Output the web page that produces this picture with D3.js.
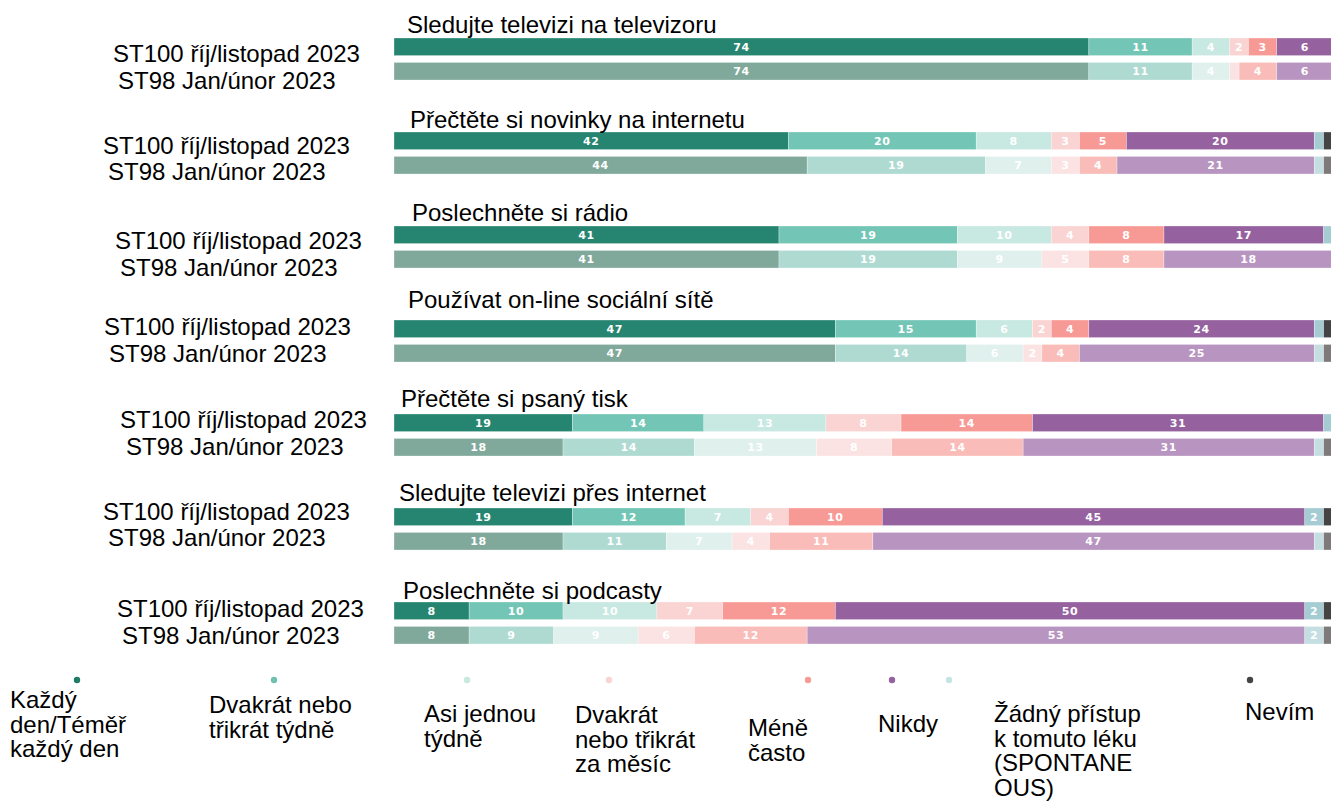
<!DOCTYPE html>
<html>
<head>
<meta charset="utf-8">
<script src="https://cdn.jsdelivr.net/npm/d3@7"></script>
<style>
  html, body { margin: 0; padding: 0; background: #fff; }
  svg { display: block; }
</style>
</head>
<body>
<svg id="chart" width="1331" height="807"></svg>
<script>
// ---------- DATA ----------
const topics = [
  "Sledujte televizi na televizoru",
  "Přečtěte si novinky na internetu",
  "Poslechněte si rádio",
  "Používat on-line sociální sítě",
  "Přečtěte si psaný tisk",
  "Sledujte televizi přes internet",
  "Poslechněte si podcasty"
];
const waves = ["ST100 říj/listopad 2023", "ST98 Jan/únor 2023"];
const categories = [
  "Každý den/Téměř každý den",
  "Dvakrát nebo třikrát týdně",
  "Asi jednou týdně",
  "Dvakrát nebo třikrát za měsíc",
  "Méně často",
  "Nikdy",
  "Žádný přístup k tomuto léku (SPONTANEOUS)",
  "Nevím"
];
// values per topic, in category order
const st100Values = [
  [74, 11, 4, 2, 3, 6, 0, 0],
  [42, 20, 8, 3, 5, 20, 1, 1],
  [41, 19, 10, 4, 8, 17, 1, 0],
  [47, 15, 6, 2, 4, 24, 1, 1],
  [19, 14, 13, 8, 14, 31, 1, 0],
  [19, 12, 7, 4, 10, 45, 2, 1],
  [8, 10, 10, 7, 12, 50, 2, 1]
];
const st98Values = [
  [74, 11, 4, 1, 4, 6, 0, 0],
  [44, 19, 7, 3, 4, 21, 1, 1],
  [41, 19, 9, 5, 8, 18, 0, 0],
  [47, 14, 6, 2, 4, 25, 1, 1],
  [18, 14, 13, 8, 14, 31, 1, 1],
  [18, 11, 7, 4, 11, 47, 1, 1],
  [8, 9, 9, 6, 12, 53, 2, 1]
];
const legendLines = [
  ["Každý", "den/Téměř", "každý den"],
  ["Dvakrát nebo", "třikrát týdně"],
  ["Asi jednou", "týdně"],
  ["Dvakrát", "nebo třikrát", "za měsíc"],
  ["Méně", "často"],
  ["Nikdy"],
  ["Žádný přístup", "k tomuto léku", "(SPONTANE", "OUS)"],
  ["Nevím"]
];

// ---------- STYLE / LAYOUT ----------
const colorsST100 = ["#268570", "#73c6b6", "#c8e8e2", "#fad3d3", "#f79a96", "#95619f", "#a5cbd3", "#444444"];
const colorsST98  = ["#80a99b", "#aedad2", "#dff0ed", "#fbe3e4", "#f9bcb8", "#b895c0", "#c4dee2", "#7f7a7a"];
const legendDotColors = ["#1f7a66", "#6fc2b2", "#c8e8e2", "#fad3d3", "#f79a96", "#95619f", "#c4e6e2", "#444444"];

const FONT = "'Liberation Sans', Arial, sans-serif";
const FS = 24;
const svg = d3.select("#chart");

const x = d3.scaleLinear().domain([0, 100]).range([394, 1333]);
const yGroup = d3.scalePoint().domain(topics).range([38, 602]);
const yWave = d3.scaleBand().domain(waves).range([0, 42]).paddingInner(0.28).paddingOuter(0);

// per-group label placement in the original
const titleDx = [407, 410, 412, 408, 401, 399, 403];
const titleDy = [-5, -4, -5, -12, -7, -7, -3];
const waveLabelX = [[113, 118], [103, 108], [115, 120], [104, 109], [120, 126], [103, 108], [117, 122]];
const waveLabelDy = [[15, 42], [13, 39], [14, 41], [6, 33], [5, 32], [3, 29], [6, 33]];

topics.forEach((topic, ti) => {
  const g = svg.append("g").attr("transform", `translate(0,${yGroup(topic)})`);

  const rows = [st100Values[ti], st98Values[ti]];
  const palettes = [colorsST100, colorsST98];
  waves.forEach((w, wi) => {
    const vals = rows[wi];
    let cum = 0;
    const segs = vals.map((v, ci) => { const s = { v, ci, x0: cum, x1: cum + v }; cum += v; return s; })
      .filter(s => s.v > 0);
    const rg = g.append("g").attr("transform", `translate(0,${yWave(w)})`);
    rg.selectAll("rect").data(segs).join("rect")
      .attr("x", d => x(d.x0))
      .attr("y", 0)
      .attr("width", d => x(d.x1) - x(d.x0))
      .attr("height", yWave.bandwidth())
      .attr("fill", d => palettes[wi][d.ci])
      .attr("stroke", "#ffffff").attr("stroke-width", 0.5).attr("stroke-opacity", 0.6);
    rg.selectAll("text").data(segs.filter(d => d.v >= 2)).join("text")
      .attr("x", d => (x(d.x0) + x(d.x1)) / 2)
      .attr("y", yWave.bandwidth() / 2 + 4)
      .attr("text-anchor", "middle")
      .attr("font-family", "'DejaVu Sans', Verdana, sans-serif")
      .attr("font-weight", "bold").attr("font-size", 11)
      .attr("letter-spacing", 0.6)
      .attr("fill", "#ffffff")
      .text(d => d.v);

    g.append("text")
      .attr("x", waveLabelX[ti][wi]).attr("y", waveLabelDy[ti][wi] + 8.5)
      .attr("font-family", FONT).attr("font-size", FS).attr("fill", "#000")
      .text(w);
  });

  g.append("text")
    .attr("x", titleDx[ti]).attr("y", titleDy[ti])
    .attr("font-family", FONT).attr("font-size", FS).attr("fill", "#000")
    .text(topic);
});

// ---------- LEGEND ----------
const legendDotX = [77, 274, 467, 609, 808, 892, 949, 1250];
const legendTextX = [10, 209, 424, 575, 748, 878, 994, 1245];
const legendTextY = [708, 713, 722, 723, 736, 732, 722, 720];
const legendLineH = 24.5;
const legend = svg.append("g");
categories.forEach((c, i) => {
  legend.append("circle")
    .attr("cx", legendDotX[i]).attr("cy", 680).attr("r", 3.2)
    .attr("fill", legendDotColors[i]);
  const t = legend.append("text")
    .attr("font-family", FONT).attr("font-size", FS).attr("fill", "#000");
  legendLines[i].forEach((line, li) => {
    t.append("tspan").attr("x", legendTextX[i]).attr("y", legendTextY[i] + li * legendLineH).text(line);
  });
});
</script>
</body>
</html>
